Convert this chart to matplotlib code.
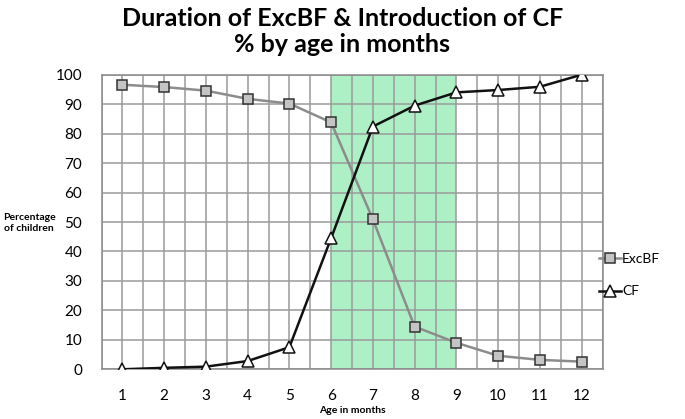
import matplotlib
matplotlib.use("Agg")
import matplotlib.pyplot as plt
import numpy as np
import matplotlib.patheffects as pe

months = [1, 2, 3, 4, 5, 6, 7, 8, 9, 10, 11, 12]
excbf = [96.6, 95.8, 94.6, 91.8, 90.2, 83.8, 50.9, 14.5, 9.0, 4.6, 3.2, 2.6]
cf = [0.0, 0.5, 0.9, 2.8, 7.5, 44.5, 82.4, 89.5, 94.0, 94.8, 95.9, 100.0]
yticks = [0, 10, 20, 30, 40, 50, 60, 70, 80, 90, 100]

plt.rcParams['font.family'] = ['Lato', 'DejaVu Sans']

fig = plt.figure(figsize=(6.85, 4.19), dpi=100)
ax = fig.add_axes([101.5/685, 1 - 369.3/419, (602.5-101.5)/685, (369.3-74.7)/419])

ax.set_xlim(0.5, 12.5)
ax.set_ylim(0, 100)
ax.axvspan(6, 9, color='#aef0c6', zorder=0, lw=0)

ax.set_xticks(months)
ax.set_xticks(np.arange(0.5, 12.6, 1.0), minor=True)
ax.set_yticks(yticks)
ax.grid(True, which='both', axis='x', color='#9a9a9a', lw=1.1, zorder=1)
ax.grid(True, which='major', axis='y', color='#9a9a9a', lw=1.1, zorder=1)
ax.tick_params(which='both', length=0)
ax.tick_params(axis='y', pad=14, labelsize=11)
ax.tick_params(axis='x', pad=14, labelsize=11)
for s in ax.spines.values():
    s.set_color('#8a8a8a')
    s.set_linewidth(1.1)

shadow = [pe.SimplePatchShadow(offset=(1, -1), shadow_rgbFace='#555555', alpha=0.5), pe.Normal()]
l1, = ax.plot(months, excbf, color='#8c8c8c', lw=1.8, marker='s', markersize=7,
              markerfacecolor='#c4c4c4', markeredgecolor='#333333', markeredgewidth=1.1,
              zorder=3, label='ExcBF')
l2, = ax.plot(months, cf, color='#111111', lw=1.8, marker='^', markersize=8,
              markerfacecolor='white', markeredgecolor='#111111', markeredgewidth=1.1,
              zorder=4, label='CF')

fig.text(0.5, 1 - 18/419, 'Duration of ExcBF & Introduction of CF', ha='center', va='center',
         fontsize=18, fontweight='bold')
fig.text(0.5, 1 - 45/419, '% by age in months', ha='center', va='center',
         fontsize=18, fontweight='bold')
fig.text(29/685, 1 - 223/419, 'Percentage\nof children', ha='center', va='center',
         fontsize=7.5, fontweight='bold', linespacing=1.3)
fig.text(352/685, 1 - 410/419, 'Age in months', ha='center', va='center',
         fontsize=7.5, fontweight='bold')

leg = fig.legend(handles=[l1, l2], loc='center left', bbox_to_anchor=(593/685, 1 - 275/419),
                 frameon=False, handlelength=1.6, handletextpad=0.1, labelspacing=1.5,
                 fontsize=10, borderaxespad=0)

fig.savefig('out.png', dpi=100)
